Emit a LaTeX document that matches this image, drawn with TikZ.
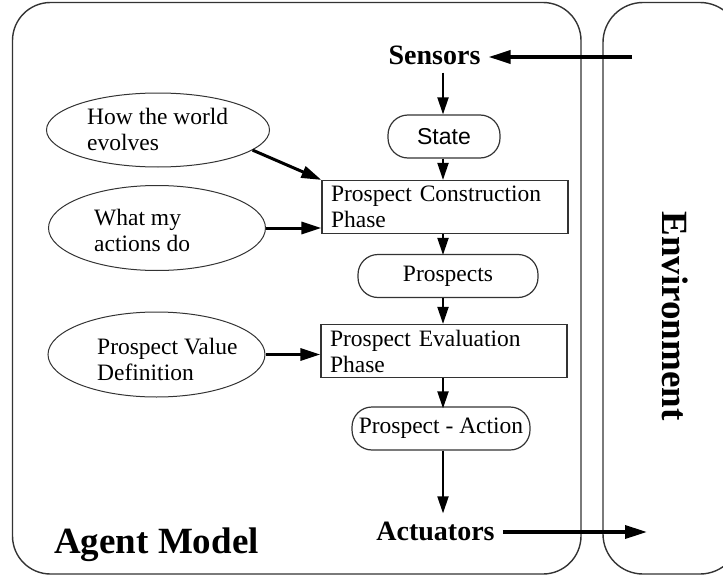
\documentclass[tikz,border=0pt]{standalone}
\usepackage{fontspec}
\setmainfont{Liberation Serif}
\newfontfamily\sansf{Liberation Sans}
\usetikzlibrary{arrows.meta,shapes.geometric}
\begin{document}
\begin{tikzpicture}[x=1pt,y=-1pt,
  frame/.style={draw=black!80, line width=1.2pt},
  txt/.style={font=\fontsize{23.5}{26}\selectfont},
  term/.style={frame, rectangle, rounded corners=20pt, inner sep=0pt, minimum height=43pt, txt},
  phase/.style={frame, rectangle, minimum width=246pt, minimum height=53pt, text width=228pt, align=left, inner sep=0pt, txt},
  oval/.style={frame, line width=1pt, ellipse, inner sep=0pt},
  ovaltext/.style={txt, align=left, anchor=west, inner sep=0pt},
  bigtext/.style={font=\fontsize{28}{30}\selectfont\bfseries, inner sep=8pt},
  hugetext/.style={font=\fontsize{37}{40}\selectfont\bfseries, inner sep=0pt},
  arrv/.style={-{Triangle[length=17pt,width=11pt]}, line width=2pt},
  arrh/.style={-{Triangle[length=22pt,width=13pt]}, line width=3.5pt},
  arre/.style={-{Triangle[length=20pt,width=12pt]}, line width=3pt}]
\useasboundingbox (0,0) rectangle (723,578);
\clip (0,0) rectangle (723,578);
% outer frames
\draw[frame, line width=1.4pt, rounded corners=38pt] (12.5,2.5) rectangle (581,574);
\draw[frame, line width=1.4pt, rounded corners=40pt] (603,2.5) rectangle (740,574);
\coordinate (axis) at (443,0);
% labels
\node[bigtext] (sensors) at (434.5,55) {Sensors};
\node[bigtext] (act) at (435.5,531) {Actuators};
\node[hugetext] (agent) at (156.5,545) {Agent Model};
\node[hugetext, rotate=-90] (env) at (675,316) {Environment};
% central chain
\node[term, minimum width=112pt, font=\sansf\fontsize{23}{26}\selectfont] (state) at (444,136.5) {State};
\node[phase] (pcp) at (445,207) {Prospect Construction\\Phase};
\node[term, minimum width=180pt] (pros) at (448,276) {Prospects};
\node[phase] (pep) at (444,351) {Prospect Evaluation\\Phase};
\node[term, minimum width=178pt] (pa) at (441,428.5) {Prospect - Action};
% ellipses
\node[oval, minimum width=223pt, minimum height=74pt] (e1) at (158,130) {};
\node[ovaltext] (e1t) at (87,129) {How the world\\evolves};
\node[oval, minimum width=217pt, minimum height=85pt] (e2) at (157,228) {};
\node[ovaltext] (e2t) at (94,230) {What my\\actions do};
\node[oval, minimum width=217pt, minimum height=85pt] (e3) at (156.5,354.5) {};
\node[ovaltext] (e3t) at (97,359) {Prospect Value\\Definition};
% environment connectors
\coordinate (envin) at (632,57);
\coordinate (envout) at (647,532);
\draw[arrh] (envin) -- (envin -| sensors.east);
\draw[arrh] (act.east |- envout) -- (envout);
% vertical arrows
\draw[arrv] (sensors.south -| axis) -- (state.north -| axis);
\draw[arrv] (state.south -| axis) -- (pcp.north -| axis);
\draw[arrv] (pcp.south -| axis) -- ([yshift=-1pt]pros.north -| axis);
\draw[arrv] (pros.south -| axis) -- (pep.north -| axis);
\draw[arrv] (pep.south -| axis) -- ([yshift=-2pt]pa.north -| axis);
\draw[arrv] (pa.south -| axis) -- (act.north -| axis);
% ellipse arrows
\draw[arre] (e1.-12) -- (pcp.north west);
\draw[arre] (e2) -- (e2 -| pcp.west);
\draw[arre] (e3) -- (e3 -| pep.west);
\end{tikzpicture}
\end{document}
